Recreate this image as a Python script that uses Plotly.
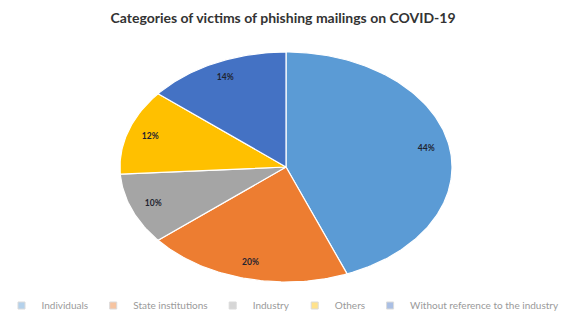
import numpy as np
import plotly.graph_objects as go

# ---- data ----
categories = ["Individuals", "State institutions", "Industry", "Others",
              "Without reference to the industry"]
shares = [44, 20, 10, 12, 14]
colors = ["#5B9BD5", "#ED7D31", "#A5A5A5", "#FFC000", "#4472C4"]
title_text = "Categories of victims of phishing mailings on COVID-19"

fig = go.Figure()

total = float(sum(shares))
start = 0.0
label_r = 0.86
for name, val, col in zip(categories, shares, colors):
    frac = val / total
    t0 = start * 2 * np.pi
    t1 = (start + frac) * 2 * np.pi
    n = max(int(frac * 360), 8)
    th = np.linspace(t0, t1, n)
    xs = np.concatenate([[0.0], np.sin(th), [0.0]])
    ys = np.concatenate([[0.0], np.cos(th), [0.0]])
    fig.add_trace(go.Scatter(
        x=xs, y=ys, mode="lines", fill="toself", fillcolor=col,
        line=dict(color="white", width=1.2), name=name,
        hoverinfo="skip", showlegend=False))
    tm = (t0 + t1) / 2
    fig.add_trace(go.Scatter(
        x=[label_r * np.sin(tm)], y=[label_r * np.cos(tm)], mode="text",
        text=[f"<b>{val}%</b>"], textfont=dict(family="Lato", size=8.5, color="#1f2430"),
        textposition="middle center", showlegend=False, hoverinfo="skip"))
    start += frac

# legend entries (square swatches)
for name, col in zip(categories, colors):
    fig.add_trace(go.Scatter(
        x=[None], y=[None], mode="markers", name=name,
        marker=dict(symbol="square", size=7, color=col, opacity=0.45,
                    line=dict(color="#b0b0b0", width=1)),
        hoverinfo="skip", showlegend=True))

fig.update_layout(
    width=566, height=320,
    margin=dict(l=0, r=0, t=0, b=0),
    paper_bgcolor="white", plot_bgcolor="white",
    title=dict(text=f"<b>{title_text}</b>", x=0.5, xanchor="center",
               y=0.945, yanchor="middle",
               font=dict(family="Lato", size=14, color="#333333")),
    xaxis=dict(range=[-1.0, 1.0], domain=[120 / 566, 452 / 566],
               visible=False, fixedrange=True),
    yaxis=dict(range=[-1.0, 1.0], domain=[38 / 320, 268 / 320],
               visible=False, fixedrange=True),
    legend=dict(orientation="h", x=0.5, xanchor="center",
                y=0.0, yanchor="bottom",
                font=dict(family="Lato", size=10, color="#9a9a9a"),
                itemclick=False, itemdoubleclick=False, itemwidth=30,
                bgcolor="rgba(0,0,0,0)"),
    showlegend=True,
)

fig.write_html("out.html")
